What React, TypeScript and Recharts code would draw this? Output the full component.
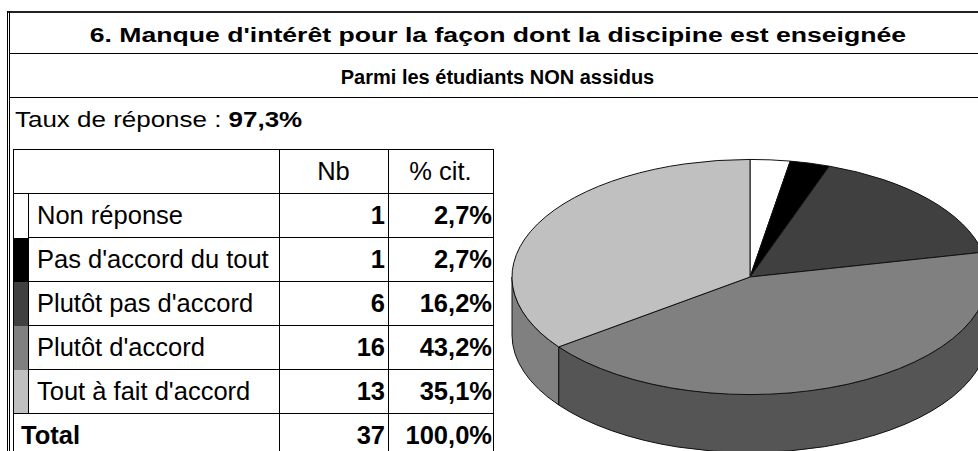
import React from 'react'
import { PieChart, Pie } from 'recharts'

const TITLE = "6. Manque d'intérêt pour la façon dont la discipine est enseignée"
const SUBTITLE = 'Parmi les étudiants NON assidus'
const RESPONSE_RATE = '97,3%'

const CATEGORIES = [
  'Non réponse',
  "Pas d'accord du tout",
  "Plutôt pas d'accord",
  "Plutôt d'accord",
  "Tout à fait d'accord",
]
const COUNTS = [1, 1, 6, 16, 13]
const PERCENTS = ['2,7%', '2,7%', '16,2%', '43,2%', '35,1%']
const TOTAL_COUNT = 37
const TOTAL_PERCENT = '100,0%'

const TOP_COLORS = ['#ffffff', '#000000', '#404040', '#808080', '#c0c0c0']
const SIDE_COLORS = ['#aaaaaa', '#000000', '#2b2b2b', '#555555', '#808080']

const TILT = 0.494
const DEPTH = 58
const RAD = Math.PI / 180
const FONT = '"Liberation Sans", Arial, sans-serif'

const pieData = CATEGORIES.map((name, i) => ({ name, value: COUNTS[i] }))

// draws each sector as a tilted 3D slice (top face + front wall)
function Slice3D(props: any) {
  const { cx, cy, outerRadius, startAngle, endAngle, index } = props
  const rx = outerRadius
  const ry = outerRadius * TILT
  const pt = (a: number) => [cx + rx * Math.cos(a * RAD), cy - ry * Math.sin(a * RAD)]
  const [sx, sy] = pt(startAngle)
  const [ex, ey] = pt(endAngle)
  const large = Math.abs(startAngle - endAngle) > 180 ? 1 : 0
  const top = `M${cx},${cy} L${sx},${sy} A${rx},${ry} 0 ${large} 1 ${ex},${ey} Z`

  let wall: string | null = null
  const a0 = Math.min(startAngle, 0)
  const a1 = Math.max(endAngle, -180)
  if (a0 > a1) {
    const [p0x, p0y] = pt(a0)
    const [p1x, p1y] = pt(a1)
    const lg = a0 - a1 > 180 ? 1 : 0
    wall =
      `M${p0x},${p0y} A${rx},${ry} 0 ${lg} 1 ${p1x},${p1y} ` +
      `L${p1x},${p1y + DEPTH} A${rx},${ry} 0 ${lg} 0 ${p0x},${p0y + DEPTH} Z`
  }

  return (
    <g>
      {wall && <path d={wall} fill={SIDE_COLORS[index]} stroke="#111" strokeWidth={1} />}
      <path d={top} fill={TOP_COLORS[index]} stroke="#111" strokeWidth={1} strokeLinejoin="round" />
    </g>
  )
}

const cell: React.CSSProperties = {
  position: 'absolute',
  boxSizing: 'border-box',
  display: 'flex',
  alignItems: 'center',
  fontSize: 25.5,
  whiteSpace: 'nowrap',
}

// table grid
const TY = 149
const ROW_H = 44
const COLS = [13, 28, 279, 388, 493]

export default function App() {
  const rows = CATEGORIES.length + 2
  return (
    <div
      style={{
        position: 'absolute',
        left: 0,
        top: 0,
        width: 978,
        height: 451,
        overflow: 'hidden',
        background: '#fff',
        fontFamily: FONT,
        color: '#000',
      }}
    >
      {/* outer frame */}
      <div style={{ position: 'absolute', left: 7, top: 11, width: 1030, height: 2, background: '#222' }} />
      <div
        style={{ position: 'absolute', left: 7, top: 11, width: 3, height: 460, borderLeft: '3px double #000', boxSizing: 'border-box' }}
      />
      <div style={{ position: 'absolute', left: 10, top: 53, width: 1030, height: 1, background: '#000' }} />
      <div style={{ position: 'absolute', left: 10, top: 97, width: 1030, height: 1, background: '#000' }} />

      <div
        style={{
          ...cell,
          left: 8,
          width: 979,
          top: 13,
          height: 40,
          paddingTop: 4,
          justifyContent: 'center',
          fontSize: 20,
          fontWeight: 'bold',
        }}
      >
        <span style={{ display: 'inline-block', transform: 'scaleX(1.33)', transformOrigin: 'center' }}>{TITLE}</span>
      </div>
      <div
        style={{
          ...cell,
          left: 8,
          width: 979,
          top: 54,
          height: 43,
          paddingTop: 4,
          justifyContent: 'center',
          fontSize: 20,
          fontWeight: 'bold',
        }}
      >
        {SUBTITLE}
      </div>

      <div
        style={{
          position: 'absolute',
          left: 15,
          top: 107,
          height: 26,
          lineHeight: '26px',
          fontSize: 22,
          whiteSpace: 'nowrap',
          transform: 'scaleX(1.18)',
          transformOrigin: 'left center',
        }}
      >
        Taux de réponse : <b>{RESPONSE_RATE}</b>
      </div>

      {/* table lines */}
      {Array.from({ length: rows }).map((_, r) => {
        const x0 = r >= 2 && r <= CATEGORIES.length ? COLS[1] : COLS[0]
        return (
          <div
            key={'h' + r}
            style={{ position: 'absolute', left: x0, width: COLS[4] - x0 + 1, top: TY + r * ROW_H, height: 1, background: '#000' }}
          />
        )
      })}
      <div style={{ position: 'absolute', left: COLS[0], top: TY, width: 1, height: 320, background: '#000' }} />
      {[COLS[2], COLS[3], COLS[4]].map((x) => (
        <div key={'v' + x} style={{ position: 'absolute', left: x, top: TY, width: 1, height: 320, background: '#000' }} />
      ))}
      <div
        style={{ position: 'absolute', left: COLS[1], top: TY + ROW_H, width: 1, height: ROW_H * CATEGORIES.length, background: '#000' }}
      />

      {/* header */}
      <div style={{ ...cell, left: COLS[2], width: COLS[3] - COLS[2], top: TY, height: ROW_H, justifyContent: 'center' }}>Nb</div>
      <div style={{ ...cell, left: COLS[3], width: COLS[4] - COLS[3], top: TY, height: ROW_H, justifyContent: 'center' }}>
        % cit.
      </div>

      {CATEGORIES.map((cat, i) => {
        const y = TY + (i + 1) * ROW_H
        return (
          <React.Fragment key={cat}>
            <div
              style={{
                position: 'absolute',
                left: COLS[0] + 1,
                top: y + 1,
                width: COLS[1] - COLS[0] - 1,
                height: ROW_H - (i === CATEGORIES.length - 1 ? 1 : 0),
                background: TOP_COLORS[i],
              }}
            />
            <div style={{ ...cell, left: COLS[1] + 9, top: y, height: ROW_H }}>{cat}</div>
            <div
              style={{
                ...cell,
                left: COLS[2],
                width: COLS[3] - COLS[2] - 3,
                top: y,
                height: ROW_H,
                justifyContent: 'flex-end',
                fontWeight: 'bold',
              }}
            >
              {COUNTS[i]}
            </div>
            <div
              style={{
                ...cell,
                left: COLS[3],
                width: COLS[4] - COLS[3] - 1,
                top: y,
                height: ROW_H,
                justifyContent: 'flex-end',
                fontWeight: 'bold',
              }}
            >
              {PERCENTS[i]}
            </div>
          </React.Fragment>
        )
      })}

      {/* total */}
      <div style={{ ...cell, left: COLS[0] + 8, top: TY + 6 * ROW_H, height: ROW_H, fontWeight: 'bold' }}>Total</div>
      <div
        style={{
          ...cell,
          left: COLS[2],
          width: COLS[3] - COLS[2] - 3,
          top: TY + 6 * ROW_H,
          height: ROW_H,
          justifyContent: 'flex-end',
          fontWeight: 'bold',
        }}
      >
        {TOTAL_COUNT}
      </div>
      <div
        style={{
          ...cell,
          left: COLS[3],
          width: COLS[4] - COLS[3] - 1,
          top: TY + 6 * ROW_H,
          height: ROW_H,
          justifyContent: 'flex-end',
          fontWeight: 'bold',
        }}
      >
        {TOTAL_PERCENT}
      </div>

      <div style={{ position: 'absolute', left: 0, top: 0 }}>
        <PieChart width={978} height={451}>
          <Pie
            data={pieData}
            dataKey="value"
            nameKey="name"
            cx={745}
            cy={272}
            innerRadius={0}
            outerRadius={238}
            startAngle={90}
            endAngle={-270}
            fill="none"
            stroke="none"
            label={Slice3D}
            labelLine={false}
            isAnimationActive={false}
          />
        </PieChart>
      </div>
    </div>
  )
}
